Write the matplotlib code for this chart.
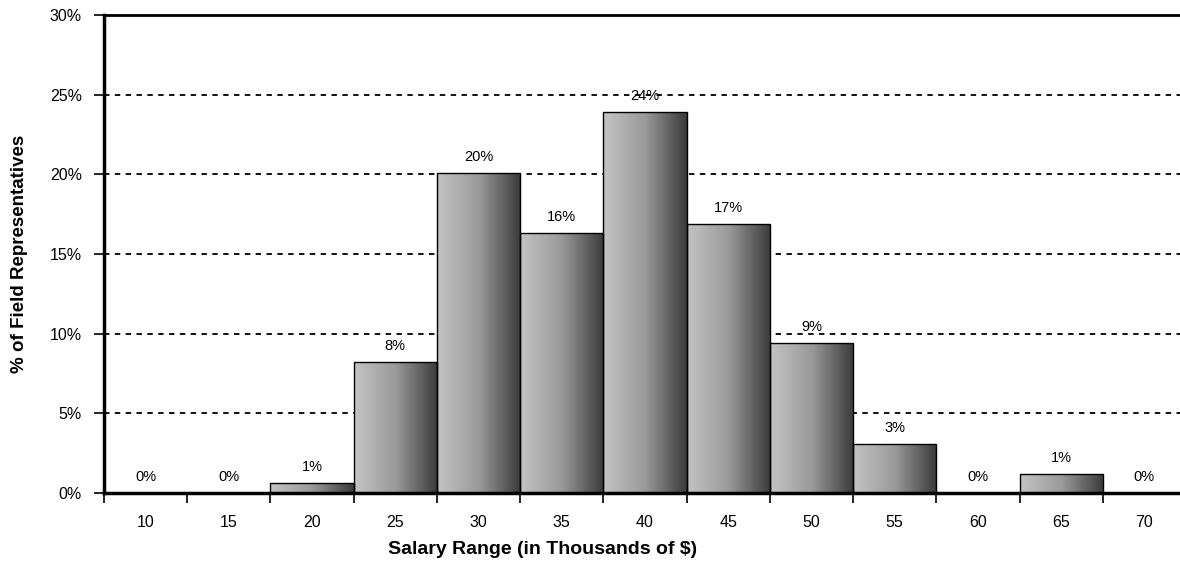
import numpy as np
import matplotlib
matplotlib.use("Agg")
import matplotlib.pyplot as plt
from matplotlib.colors import LinearSegmentedColormap
from matplotlib.ticker import FuncFormatter, MultipleLocator

plt.rcParams['font.family'] = ['Liberation Sans', 'DejaVu Sans']

salary = [10, 15, 20, 25, 30, 35, 40, 45, 50, 55, 60, 65, 70]
pct = [0.0, 0.0, 0.6, 8.2, 20.1, 16.3, 23.9, 16.9, 9.4, 3.1, 0.0, 1.2, 0.0]
bar_labels = ["0%", "0%", "1%", "8%", "20%", "16%", "24%", "17%", "9%", "3%", "0%", "1%", "0%"]

fig = plt.figure(figsize=(11.8, 5.65), dpi=100)
ax = fig.add_axes([104 / 1180, 1 - 493 / 565, 1082 / 1180, 478 / 565])

xpos = np.arange(len(salary))
bars = ax.bar(xpos, pct, width=1.0, color='none', edgecolor='black',
              linewidth=1.0, zorder=3)

# grey gradient, light on the left, dark on the right
grad_cmap = LinearSegmentedColormap.from_list('bargrad', ['#c4c4c4', '#9a9a9a', '#3a3a3a'])
grad = np.linspace(0, 1, 256).reshape(1, -1)
for b in bars:
    h = b.get_height()
    if h <= 0:
        continue
    x0 = b.get_x()
    w = b.get_width()
    im = ax.imshow(grad, cmap=grad_cmap, aspect='auto', extent=[x0, x0 + w, 0, h],
                   interpolation='bilinear', zorder=2)
    im.set_clip_path(b)

for b, lab in zip(bars, bar_labels):
    ax.annotate(lab, (b.get_x() + b.get_width() / 2, b.get_height()),
                xytext=(0, 6.5), textcoords='offset points', ha='center', va='bottom',
                fontsize=10.5, zorder=5)

ax.set_xlim(-0.5, len(salary) - 0.5)
ax.set_ylim(0, 30)

# y axis
ax.yaxis.set_major_locator(MultipleLocator(5))
ax.yaxis.set_major_formatter(FuncFormatter(lambda v, p: f"{v:.0f}%"))
ax.tick_params(axis='y', direction='out', length=7, width=1.2, labelsize=11.5, pad=9, colors='black')
for v in range(5, 30, 5):
    ax.axhline(v, color='black', linestyle=(0, (3, 3)), linewidth=1.3, zorder=1)

# x axis: labels centred, ticks on category boundaries
ax.set_xticks(xpos)
ax.set_xticklabels([str(s) for s in salary])
ax.set_xticks(np.arange(-0.5, len(salary), 1.0), minor=True)
ax.tick_params(axis='x', which='major', length=0, labelsize=11.5, pad=16)
ax.tick_params(axis='x', which='minor', direction='out', length=7, width=1.2)

ax.spines['left'].set_linewidth(2.5)
ax.spines['bottom'].set_linewidth(2.5)
ax.spines['top'].set_linewidth(2.0)
ax.spines['right'].set_visible(False)

ax.set_xlabel("Salary Range (in Thousands of $)", fontsize=14, fontweight='bold')
ax.xaxis.set_label_coords(0.405, -0.1)
ax.set_ylabel("% of Field Representatives", fontsize=13.5, fontweight='bold')
ax.yaxis.set_label_coords(-0.07, 0.5)

fig.savefig("out.png", dpi=100)
